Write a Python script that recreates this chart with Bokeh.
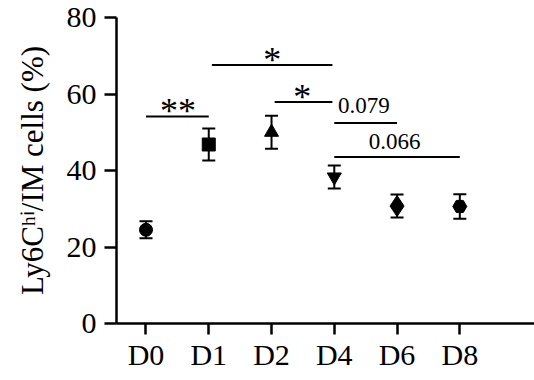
from bokeh.plotting import figure
from bokeh.models import Range1d, FixedTicker, Whisker, ColumnDataSource, TeeHead
from bokeh.embed import file_html
from bokeh.resources import INLINE
from bokeh.core.properties import value

# ---- data ----
days = ["D0", "D1", "D2", "D4", "D6", "D8"]
means = [24.5, 46.8, 50.0, 38.3, 30.7, 30.6]
errs = [2.2, 4.2, 4.3, 3.0, 3.0, 3.2]
markers = ["circle", "square", "triangle", "inverted_triangle", "diamond", "hex"]
marker_sizes = [13, 13, 14, 14, 21, 14]

y_ticks = [0, 20, 40, 60, 80]
y_title = "Ly6C\u02b0\u2071/IM cells (%)"

# significance comparisons (positions in category index units, heights in %)
cmp_start = [0.0, 1.05, 2.05, 3.0, 3.0]
cmp_end = [1.0, 2.97, 2.97, 4.0, 5.0]
cmp_y = [54.1, 67.6, 57.9, 52.4, 43.5]
cmp_label = ["**", "*", "*", "0.079", "0.066"]
cmp_label_x = [0.51, 2.01, 2.49, 3.47, 3.96]
cmp_label_y = [55.5, 69.0, 59.3, 56.9, 47.6]

FONT = "Liberation Serif"

xs = list(range(len(days)))

p = figure(width=534, height=380, output_backend="svg", toolbar_location=None,
           x_range=Range1d(-0.47, 6.19), y_range=Range1d(0, 80),
           min_border_left=116, min_border_right=0, min_border_top=17, min_border_bottom=57)
p.grid.visible = False
p.outline_line_color = None
p.background_fill_color = "white"
p.border_fill_color = "white"

for ax in (p.xaxis[0], p.yaxis[0]):
    ax.axis_line_width = 2.5
    ax.axis_line_color = "black"
    ax.major_tick_line_width = 2.5
    ax.major_tick_line_color = "black"
    ax.minor_tick_line_color = None
    ax.major_tick_in = 0
    ax.major_label_text_font = FONT
    ax.major_label_text_font_size = "30px"
    ax.major_label_text_color = "black"

p.xaxis[0].ticker = FixedTicker(ticks=xs)
p.xaxis[0].major_label_overrides = {i: d for i, d in enumerate(days)}
p.xaxis[0].major_tick_out = 11
p.xaxis[0].major_label_standoff = 3
p.yaxis[0].ticker = FixedTicker(ticks=y_ticks)
p.yaxis[0].major_tick_out = 12
p.yaxis[0].major_label_standoff = 8
p.yaxis[0].axis_label = y_title
p.yaxis[0].axis_label_text_font = FONT
p.yaxis[0].axis_label_text_font_size = "31px"
p.yaxis[0].axis_label_text_font_style = "normal"
p.yaxis[0].axis_label_text_color = "black"
p.yaxis[0].axis_label_standoff = 14

# error bars
src = ColumnDataSource(dict(x=xs, m=means,
                            lo=[m - e for m, e in zip(means, errs)],
                            hi=[m + e for m, e in zip(means, errs)],
                            mk=markers, sz=marker_sizes))
w = Whisker(base="x", upper="hi", lower="lo", source=src, dimension="height",
            line_width=2, line_color="black",
            upper_head=TeeHead(size=13, line_width=2, line_color="black"),
            lower_head=TeeHead(size=13, line_width=2, line_color="black"))
p.add_layout(w)

p.scatter("x", "m", source=src, marker="mk", size="sz", fill_color="black", line_color="black")

# significance bars
p.segment(x0=cmp_start, x1=cmp_end, y0=cmp_y, y1=cmp_y, line_width=2, line_color="black")
p.text(x=cmp_label_x[:3], y=cmp_label_y[:3], text=cmp_label[:3], text_font=value(FONT),
       text_font_size="36px", text_align="center", text_baseline="alphabetic", text_color="black")
p.text(x=cmp_label_x[3:], y=cmp_label_y[3:], text=cmp_label[3:], text_font=value(FONT),
       text_font_size="23px", text_align="center", text_baseline="middle", text_color="black")

open("out.html", "w").write(file_html(p, INLINE))
